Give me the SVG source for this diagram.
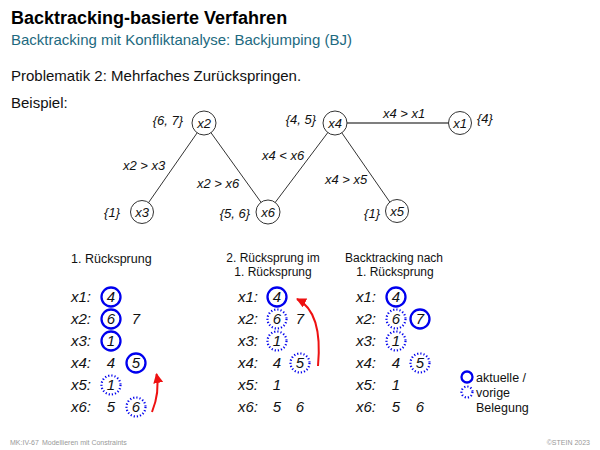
<svg xmlns="http://www.w3.org/2000/svg" width="600" height="450" viewBox="0 0 600 450">
<defs>
<style>
text{font-family:"Liberation Sans",Arial,sans-serif;}
.t{font-size:18px;font-weight:bold;fill:#000;}
.st{font-size:15px;fill:#1d6a80;}
.b{font-size:15px;fill:#111;}
.n{font-size:13px;font-style:italic;fill:#111;}
.h{font-size:12.5px;fill:#111;}
.h2{font-size:12px;fill:#111;}
.r{font-size:15px;font-style:italic;fill:#111;}
.f{font-size:7px;fill:#999;}
.nc{fill:#fff;stroke:#333;stroke-width:1;}
.e{stroke:#333;stroke-width:1;fill:none;}
.cs{fill:none;stroke:#0000ee;stroke-width:2.3;}
.cd{fill:none;stroke:#0000ee;stroke-width:2.2;stroke-dasharray:1.2 2;}
.ar{fill:none;stroke:#ee1111;stroke-width:2;}
</style>
<marker id="ah" viewBox="0 0 10 10" refX="9" refY="5" markerWidth="5" markerHeight="5" orient="auto" markerUnits="strokeWidth">
<path d="M0,0 L10,5 L0,10 z" fill="#ee1111"/>
</marker>
</defs>
<rect width="600" height="450" fill="#fff"/>
<text class="t" x="11" y="24">Backtracking-basierte Verfahren</text>
<text class="st" x="11" y="45">Backtracking mit Konfliktanalyse: Backjumping (BJ)</text>
<text class="b" x="11" y="81">Problematik 2: Mehrfaches Zurückspringen.</text>
<text class="b" x="11" y="108">Beispiel:</text>

<g id="connectors">
<line class="e" x1="204" y1="123" x2="142" y2="212"/>
<line class="e" x1="204" y1="123" x2="268" y2="212"/>
<line class="e" x1="268" y1="212" x2="335" y2="123"/>
<line class="e" x1="335" y1="123" x2="396" y2="211"/>
<line class="e" x1="335" y1="123" x2="459" y2="123" style="stroke-width:1.6;stroke:#555"/>
<text class="n" x="123" y="170">x2 &gt; x3</text>
<text class="n" x="197" y="188">x2 &gt; x6</text>
<text class="n" x="262" y="160">x4 &lt; x6</text>
<text class="n" x="325" y="184">x4 &gt; x5</text>
<text class="n" x="383" y="118">x4 &gt; x1</text>
</g>

<g id="n-x2"><circle class="nc" cx="204" cy="123" r="12"/><text class="n" x="204" y="127.5" text-anchor="middle">x2</text><text class="n" x="183" y="125" text-anchor="end">{6, 7}</text></g>
<g id="n-x4"><circle class="nc" cx="335" cy="123" r="12"/><text class="n" x="335" y="127.5" text-anchor="middle">x4</text><text class="n" x="316" y="124" text-anchor="end">{4, 5}</text></g>
<g id="n-x1"><circle class="nc" cx="460" cy="123" r="11.5"/><text class="n" x="460" y="127.5" text-anchor="middle">x1</text><text class="n" x="477" y="123">{4}</text></g>
<g id="n-x3"><circle class="nc" cx="142" cy="212" r="11.5"/><text class="n" x="142" y="216.5" text-anchor="middle">x3</text><text class="n" x="120" y="217" text-anchor="end">{1}</text></g>
<g id="n-x6"><circle class="nc" cx="268" cy="212" r="12"/><text class="n" x="268" y="216.5" text-anchor="middle">x6</text><text class="n" x="250" y="218" text-anchor="end">{5, 6}</text></g>
<g id="n-x5"><circle class="nc" cx="397" cy="211" r="11.5"/><text class="n" x="397" y="215.5" text-anchor="middle">x5</text><text class="n" x="380" y="218" text-anchor="end">{1}</text></g>

<g id="col1">
<text class="h" x="71" y="263">1. Rücksprung</text>
<text class="r" x="71" y="302">x1:</text>
<text class="r" x="71" y="324">x2:</text>
<text class="r" x="71" y="346">x3:</text>
<text class="r" x="71" y="368">x4:</text>
<text class="r" x="71" y="390">x5:</text>
<text class="r" x="71" y="412">x6:</text>
<g text-anchor="middle">
<text class="r" x="111" y="302">4</text>
<text class="r" x="111" y="324">6</text><text class="r" x="136" y="324">7</text>
<text class="r" x="111" y="346">1</text>
<text class="r" x="111" y="368">4</text><text class="r" x="136" y="368">5</text>
<text class="r" x="111" y="390">1</text>
<text class="r" x="111" y="412">5</text><text class="r" x="136" y="412">6</text>
</g>
<circle class="cs" cx="111" cy="297" r="9.5"/>
<circle class="cs" cx="111" cy="319" r="9.5"/>
<circle class="cs" cx="111" cy="341" r="9.5"/>
<circle class="cs" cx="136" cy="363" r="9.5"/>
<circle class="cd" cx="111" cy="385" r="9.5"/>
<circle class="cd" cx="136" cy="407" r="9.5"/>
<path class="ar" d="M152,412 Q160,392 156.5,374" marker-end="url(#ah)"/>
</g>

<g id="col2">
<text class="h2" x="273" y="262" text-anchor="middle">2. Rücksprung im</text>
<text class="h2" x="273" y="276" text-anchor="middle">1. Rücksprung</text>
<text class="r" x="238" y="302">x1:</text>
<text class="r" x="238" y="324">x2:</text>
<text class="r" x="238" y="346">x3:</text>
<text class="r" x="238" y="368">x4:</text>
<text class="r" x="238" y="390">x5:</text>
<text class="r" x="238" y="412">x6:</text>
<g text-anchor="middle">
<text class="r" x="277" y="302">4</text>
<text class="r" x="277" y="324">6</text><text class="r" x="300" y="324">7</text>
<text class="r" x="277" y="346">1</text>
<text class="r" x="277" y="368">4</text><text class="r" x="300" y="368">5</text>
<text class="r" x="277" y="390">1</text>
<text class="r" x="277" y="412">5</text><text class="r" x="300" y="412">6</text>
</g>
<circle class="cs" cx="277" cy="297" r="9.5"/>
<circle class="cd" cx="277" cy="319" r="9.5"/>
<circle class="cd" cx="277" cy="341" r="9.5"/>
<circle class="cd" cx="300" cy="363" r="9.5"/>
<path class="ar" d="M318,366 Q323,312 297,299" marker-end="url(#ah)"/>
</g>

<g id="col3">
<text class="h2" x="394" y="262" text-anchor="middle">Backtracking nach</text>
<text class="h2" x="395" y="276" text-anchor="middle">1. Rücksprung</text>
<text class="r" x="356" y="302">x1:</text>
<text class="r" x="356" y="324">x2:</text>
<text class="r" x="356" y="346">x3:</text>
<text class="r" x="356" y="368">x4:</text>
<text class="r" x="356" y="390">x5:</text>
<text class="r" x="356" y="412">x6:</text>
<g text-anchor="middle">
<text class="r" x="396" y="302">4</text>
<text class="r" x="396" y="324">6</text><text class="r" x="420" y="324">7</text>
<text class="r" x="396" y="346">1</text>
<text class="r" x="396" y="368">4</text><text class="r" x="420" y="368">5</text>
<text class="r" x="396" y="390">1</text>
<text class="r" x="396" y="412">5</text><text class="r" x="420" y="412">6</text>
</g>
<circle class="cs" cx="396" cy="297" r="9.5"/>
<circle class="cd" cx="396" cy="319" r="9.5"/>
<circle class="cs" cx="420" cy="319" r="9.5"/>
<circle class="cd" cx="396" cy="341" r="9.5"/>
<circle class="cd" cx="420" cy="363" r="9.5"/>
</g>

<g id="legend">
<circle class="cs" cx="467" cy="377" r="5.5"/>
<circle class="cd" cx="467" cy="392" r="5.5"/>
<text class="h" x="476" y="382">aktuelle /</text>
<text class="h" x="476" y="397">vorige</text>
<text class="h" x="476" y="412">Belegung</text>
</g>

<text class="f" x="10" y="445">MK:IV-67</text>
<text class="f" x="42" y="445">Modellieren mit Constraints</text>
<text class="f" x="590" y="445" text-anchor="end">©STEIN 2023</text>
</svg>
